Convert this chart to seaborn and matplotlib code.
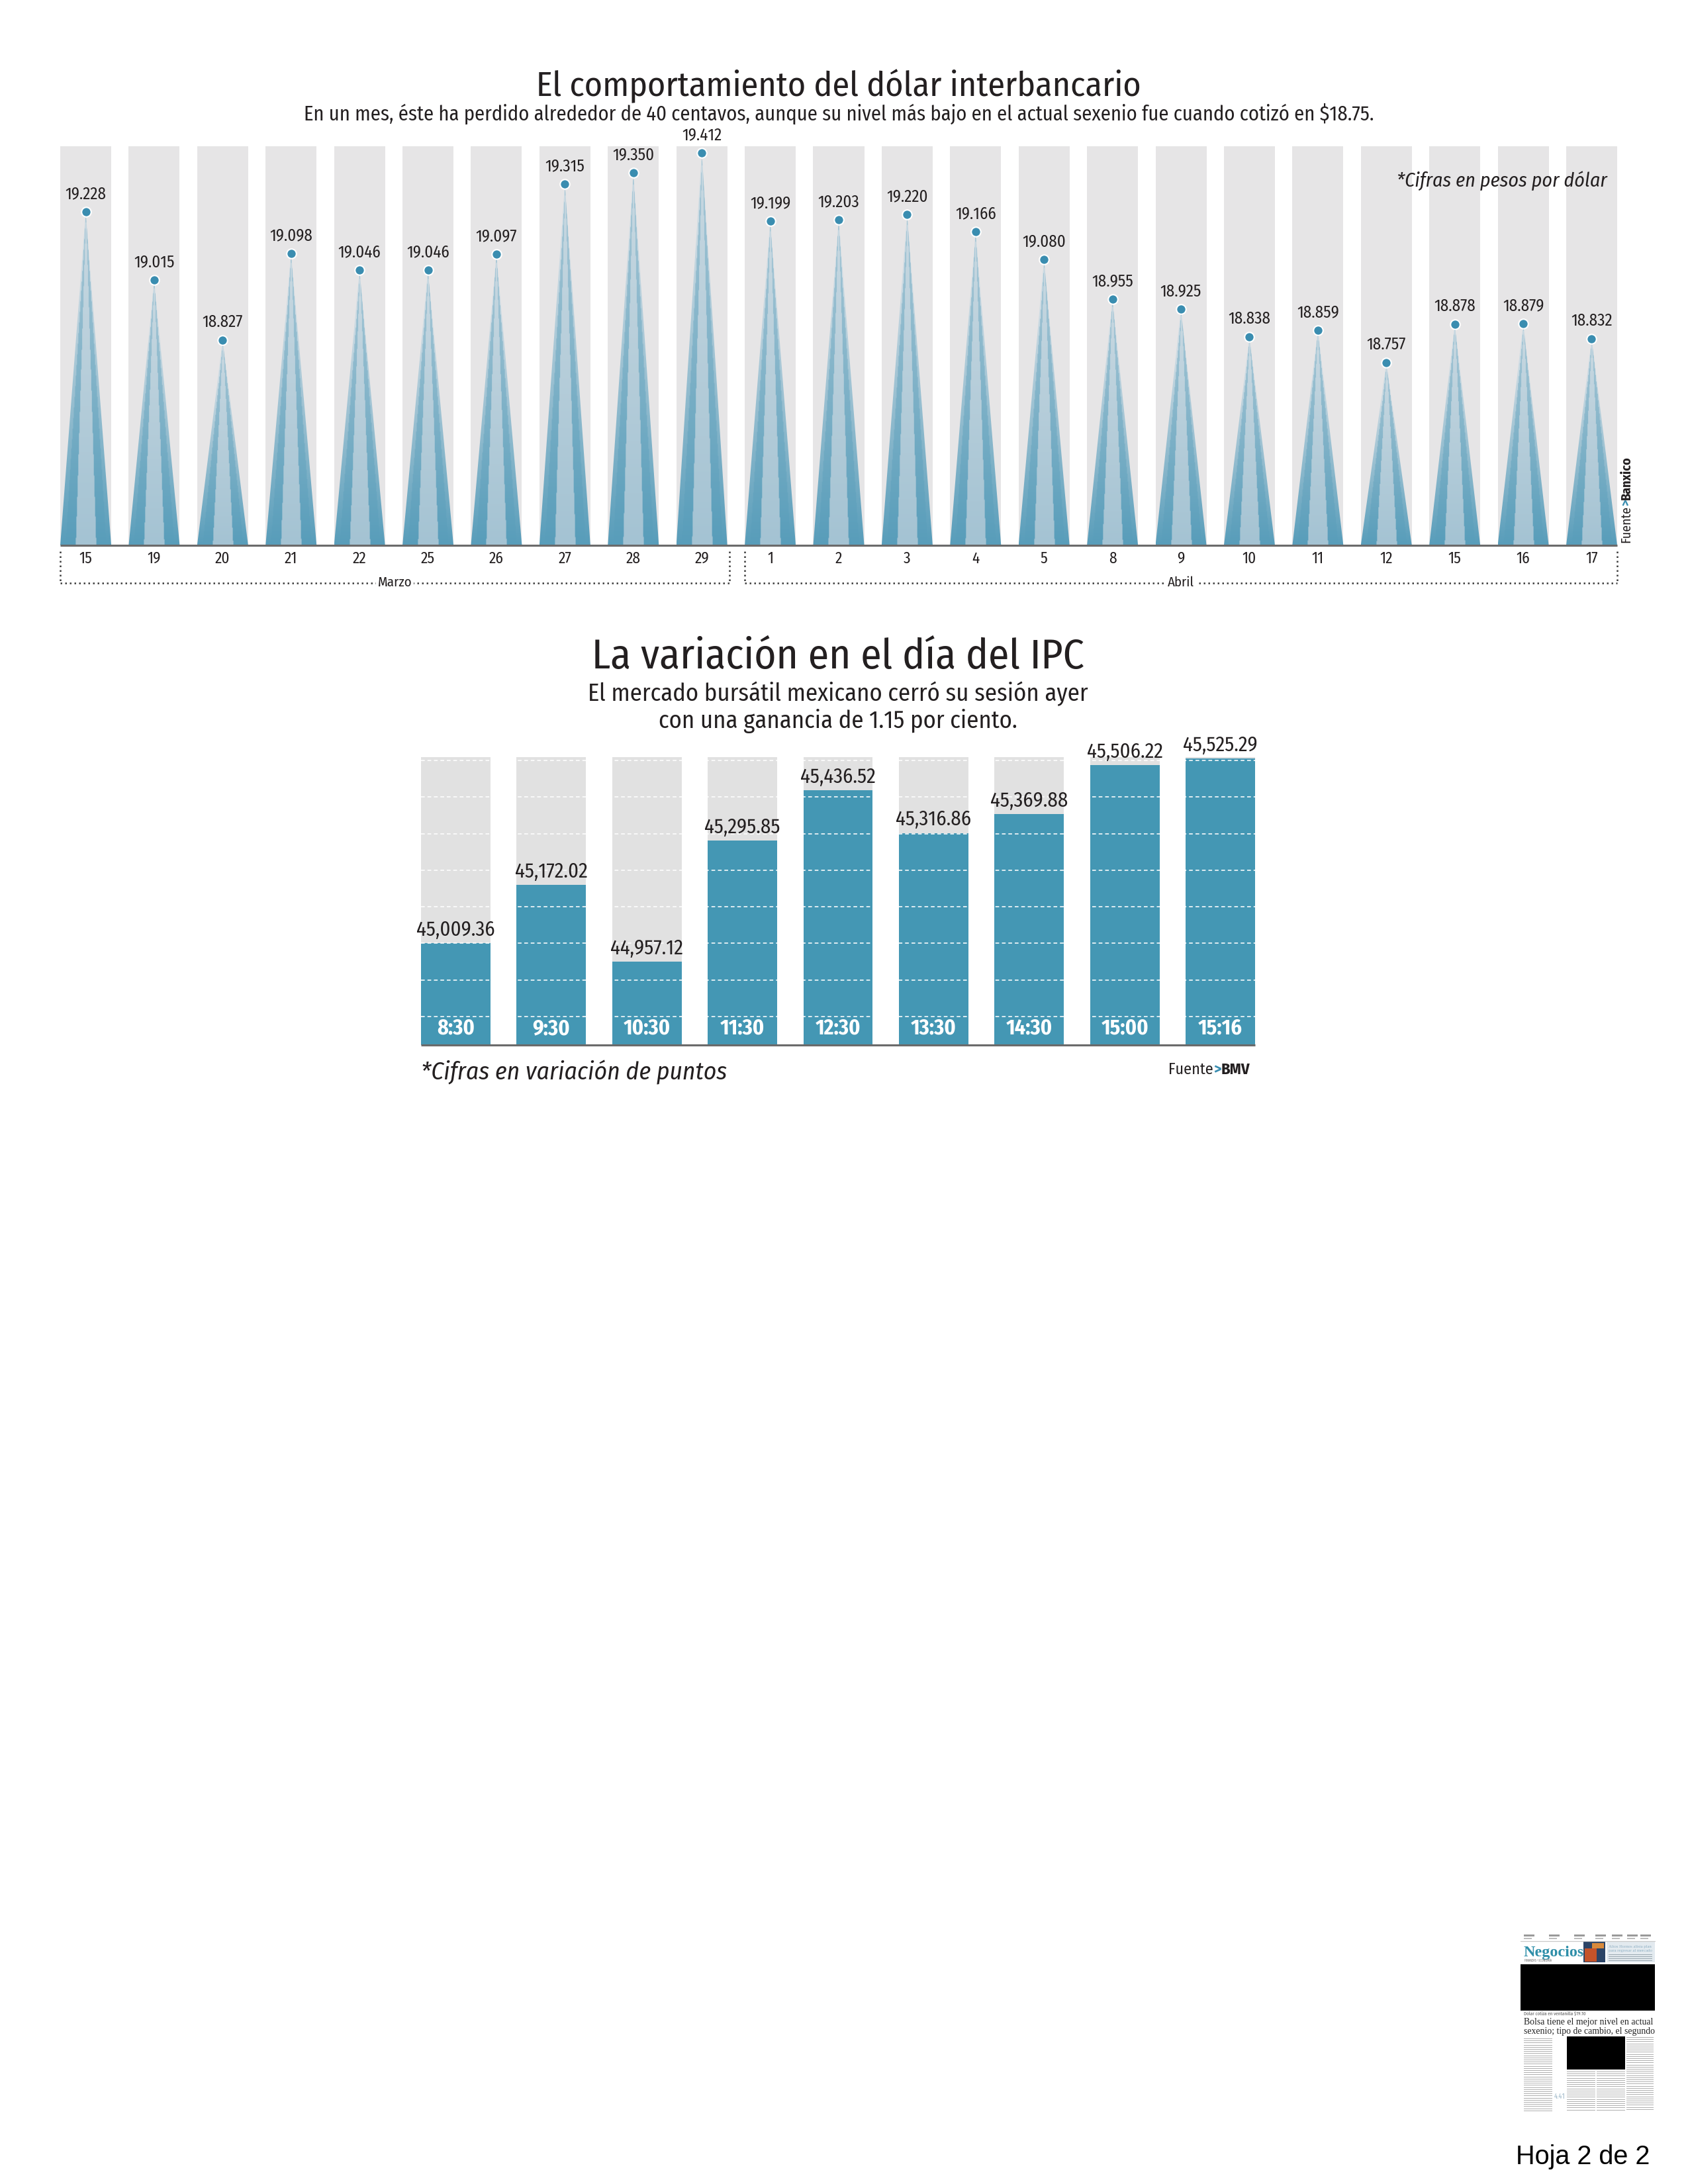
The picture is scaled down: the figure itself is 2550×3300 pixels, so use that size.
import numpy as np
import pandas as pd
import matplotlib
matplotlib.use("Agg")
import matplotlib.pyplot as plt
import seaborn as sns
from matplotlib.patches import Polygon, Rectangle
from matplotlib import font_manager as fm

# ---------------- data ----------------
fechas = ['15', '19', '20', '21', '22', '25', '26', '27', '28', '29',
          '1', '2', '3', '4', '5', '8', '9', '10', '11', '12', '15', '16', '17']
meses = ['Marzo', 'Abril']
dias_por_mes = [10, 13]
dolar = [19.228, 19.015, 18.827, 19.098, 19.046, 19.046, 19.097, 19.315, 19.350, 19.412,
         19.199, 19.203, 19.220, 19.166, 19.080, 18.955, 18.925, 18.838, 18.859, 18.757,
         18.878, 18.879, 18.832]
horas = ['8:30', '9:30', '10:30', '11:30', '12:30', '13:30', '14:30', '15:00', '15:16']
ipc = [45009.36, 45172.02, 44957.12, 45295.85, 45436.52, 45316.86, 45369.88, 45506.22, 45525.29]

# ---------------- style ----------------
sns.set_theme(style="white")
names = {f.name for f in fm.fontManager.ttflist}
FONT = 'Roboto'
for nm in ['Fira Sans Condensed', 'Roboto Condensed', 'Liberation Sans Narrow']:
    if nm in names:
        FONT = nm
        break
plt.rcParams['font.family'] = [FONT, 'DejaVu Sans']
TXT = '#231f20'

W, H = 2550, 3300
fig = plt.figure(figsize=(8.5, 11), dpi=300)
fig.patch.set_facecolor('white')


def fx(px):
    return px / W


def fy(py):
    return 1 - py / H


# ================= TOP CHART =================
n = len(dolar)
idx = np.arange(n)
bw = 0.745
y0, y1 = 18.187, 19.433
ax1 = fig.add_axes([fx(91), fy(824), (2443 - 91) / W, (824 - 221) / H])
ax1.bar(idx, y1 - y0, bottom=y0, width=bw, color='#e6e5e6', zorder=0, linewidth=0)

dark = np.array([88, 157, 186]) / 255
pale = np.array([205, 219, 227]) / 255
light = np.array([164, 195, 211]) / 255
ny, nx = 220, 80
xs = np.linspace(-1, 1, nx)
ts = np.linspace(0, 1, ny)
X, T = np.meshgrid(xs, ts)
S = np.abs(X) / np.maximum(1 - T, 1e-3)
out_c = dark + (pale - dark) * np.clip(T * 1.25, 0, 1)[..., None]
band_c = dark + (pale - dark) * np.clip(T * 0.7, 0, 1)[..., None]
cen_c = light + (pale - light) * np.clip(T * 0.9, 0, 1)[..., None]
img = np.where((S < 0.40)[..., None], cen_c, np.where((S < 0.80)[..., None], band_c, out_c))

hw = bw / 2
for i, v in zip(idx, dolar):
    im = ax1.imshow(img, extent=(i - hw, i + hw, y0, v), origin='lower', aspect='auto',
                    interpolation='bilinear', zorder=2)
    poly = Polygon([(i - hw, y0), (i + hw, y0), (i, v)], closed=True,
                   transform=ax1.transData, facecolor='none', edgecolor='none')
    ax1.add_patch(poly)
    im.set_clip_path(poly)

sns.scatterplot(x=idx, y=dolar, ax=ax1, s=12, color='#3a8db0', edgecolor='white',
                linewidth=0.5, zorder=5, legend=False)
for i, v in zip(idx, dolar):
    ax1.annotate(f"{v:.3f}", (i, v), xytext=(0, 6.5), textcoords='offset points',
                 ha='center', va='center', fontsize=6.0, color=TXT, zorder=6,
                 annotation_clip=False)

ax1.set_xlim(-hw, n - 1 + hw)
ax1.set_ylim(y0, y1)
ax1.axis('off')
ax1.plot([-hw, n - 1 + hw], [y0, y0], color='#6b6b6b', lw=0.75, clip_on=False, zorder=7,
         solid_capstyle='butt')

xt = ax1.get_xaxis_transform()
for i, f in zip(idx, fechas):
    ax1.text(i, -0.034, f, transform=xt, ha='center', va='center', fontsize=5.6, color=TXT)

# month brackets
start = 0
br_top, br_bot = -0.015, -0.094
for mes, cnt in zip(meses, dias_por_mes):
    left = start - hw
    right = start + cnt - 1 + hw
    if start == 0:
        right += 0.03
    kw = dict(transform=xt, color='#3a3a3a', lw=0.6, ls=(0, (1, 1.8)), clip_on=False)
    ax1.plot([left, left], [br_top, br_bot], **kw)
    ax1.plot([right, right], [br_top, br_bot], **kw)
    ax1.plot([left, right], [br_bot, br_bot], **kw)
    ax1.text((left + right) / 2, br_bot, mes, transform=xt, ha='center', va='center',
             fontsize=5.0, color=TXT,
             bbox=dict(facecolor='white', edgecolor='none', pad=0.6))
    start += cnt

fig.text(fx(1267), fy(130), 'El comportamiento del dólar interbancario', ha='center',
         va='center', fontsize=12.5, color=TXT)
fig.text(fx(1267), fy(172), 'En un mes, éste ha perdido alrededor de 40 centavos, aunque su nivel '
         'más bajo en el actual sexenio fue cuando cotizó en $18.75.', ha='center', va='center',
         fontsize=7.35, color=TXT)
fig.text(fx(2428), fy(273), '*Cifras en pesos por dólar', ha='right', va='center',
         fontsize=7.2, color=TXT, style='italic')

renderer = fig.canvas.get_renderer()


def chain(pieces, x, y, rotation=0):
    for txt, props in pieces:
        t = fig.text(fx(x), fy(y), txt, rotation=rotation, ha='left',
                     va='baseline' if rotation == 0 else 'bottom', **props)
        bb = t.get_window_extent(renderer)
        if rotation == 0:
            x += bb.width
        else:
            y -= bb.height


chain([('Fuente', dict(fontsize=4.8, color=TXT)),
       ('>', dict(fontsize=4.8, color='#3a8db0', fontweight='bold')),
       ('Banxico', dict(fontsize=4.8, color=TXT, fontweight='bold'))],
      2447, 820, rotation=90)

# ================= BOTTOM CHART =================
z0, z1 = 44724, 45529
m = len(horas)
bw2 = 0.727
ax2 = fig.add_axes([fx(636), fy(1579), (1896 - 636) / W, (1579 - 1144) / H])
ax2.bar(np.arange(m), z1 - z0, bottom=z0, width=bw2, color='#e1e1e1', zorder=0, linewidth=0)
df = pd.DataFrame({'hora': horas, 'ipc': ipc})
sns.barplot(data=df, x='hora', y='ipc', order=horas, color='#4497b4', saturation=1,
            width=bw2, errorbar=None, ax=ax2, zorder=2, linewidth=0)
ax2.set_xlim(-bw2 / 2, m - 1 + bw2 / 2)
ax2.set_ylim(z0, z1)
ax2.axis('off')
for k in range(8):
    gy = z0 + (0.099 + 0.127 * k) * (z1 - z0)
    ax2.axhline(gy, color='white', lw=0.45, ls=(0, (3, 2.2)), alpha=0.85, zorder=3)
ax2.plot([-bw2 / 2, m - 1 + bw2 / 2], [z0, z0], color='#6b6b6b', lw=0.75, clip_on=False,
         zorder=7, solid_capstyle='butt')
xt2 = ax2.get_xaxis_transform()
for i, (h, v) in enumerate(zip(horas, ipc)):
    ax2.annotate(f"{v:,.2f}", (i, v), xytext=(0, 1.2), textcoords='offset points',
                 ha='center', va='bottom', fontsize=7.4, color=TXT, annotation_clip=False,
                 zorder=6)
    ax2.text(i, 0.057, h, transform=xt2, ha='center', va='center', fontsize=7.7,
             color='white', fontweight='bold', zorder=6)

fig.text(fx(1266), fy(993), 'La variación en el día del IPC', ha='center', va='center',
         fontsize=15.2, color=TXT)
fig.text(fx(1266), fy(1048), 'El mercado bursátil mexicano cerró su sesión ayer', ha='center',
         va='center', fontsize=8.8, color=TXT)
fig.text(fx(1266), fy(1090), 'con una ganancia de 1.15 por ciento.', ha='center',
         va='center', fontsize=8.8, color=TXT)
fig.text(fx(636), fy(1620), '*Cifras en variación de puntos', ha='left', va='center',
         fontsize=9.0, color=TXT, style='italic')

# right-aligned Fuente>BMV
tb = fig.text(fx(1888), fy(1623), 'BMV', ha='right', va='baseline', fontsize=5.8,
              color=TXT, fontweight='bold')
bbx = tb.get_window_extent(renderer)
tg = fig.text(bbx.x0 / W, fy(1623), '>', ha='right', va='baseline', fontsize=5.8,
              color='#3a8db0', fontweight='bold')
bbg = tg.get_window_extent(renderer)
fig.text(bbg.x0 / W, fy(1623), 'Fuente', ha='right', va='baseline', fontsize=5.8, color=TXT)

# ================= page thumbnail =================
axp = fig.add_axes([0, 0, 1, 1], zorder=-1)
axp.set_xlim(0, W)
axp.set_ylim(H, 0)
axp.axis('off')
SERIF = ['Liberation Serif', 'DejaVu Serif']
for xh in [2302, 2340, 2378, 2410, 2435, 2458, 2478]:
    axp.add_patch(Rectangle((xh, 2923), 16, 2.5, color='#9a9a9a', lw=0))
    axp.add_patch(Rectangle((xh, 2928), 12, 1.6, color='#bdbdbd', lw=0))
axp.plot([2297, 2500], [2933, 2933], color='#c9c9c9', lw=0.3)
axp.text(2302, 2956, 'Negocios', family=SERIF, fontsize=5.8, fontweight='bold',
         color='#2f8fa9', va='baseline', ha='left')
axp.text(2303, 2962, 'FINANZAS • ECONOMÍA', fontsize=1.1, color='#666666', va='center')
axp.add_patch(Rectangle((2392, 2934), 33, 31, color='#2b4466', lw=0))
axp.add_patch(Rectangle((2394, 2944), 18, 20, color='#c4532a', lw=0))
axp.add_patch(Rectangle((2405, 2936), 18, 8, color='#d88a3c', lw=0))
axp.add_patch(Rectangle((2427, 2934), 73, 31, color='#e3eaef', lw=0))
axp.text(2430, 2941, 'Altos Hornos alista plan', family=SERIF, fontsize=1.6,
         color='#8fb0c4', va='center')
axp.text(2430, 2948, 'para regresar al mercado', family=SERIF, fontsize=1.6,
         color='#8fb0c4', va='center')
for yy in [2953, 2956, 2959, 2962]:
    axp.add_patch(Rectangle((2430, yy), 66, 1.2, color='#9aa7b0', lw=0))
axp.add_patch(Rectangle((2297, 2968), 203, 70, color='black', lw=0))
axp.text(2302, 3043, 'Dolar cotiza en ventanilla $19.10', fontsize=1.7, color='#555555',
         va='center')
axp.text(2302, 3055, 'Bolsa tiene el mejor nivel en actual', family=SERIF, fontsize=3.3,
         color='#222222', va='center')
axp.text(2302, 3070, 'sexenio; tipo de cambio, el segundo', family=SERIF, fontsize=3.3,
         color='#222222', va='center')
axp.add_patch(Rectangle((2367, 3077), 88, 50, color='black', lw=0))
cols = [(2302, 2345, 3080), (2367, 2410, 3130), (2412, 2455, 3130), (2457, 2498, 3078)]
for xa, xb, ys in cols:
    for yy in np.arange(ys, 3190, 3.2):
        axp.add_patch(Rectangle((xa, yy), xb - xa, 1.1, color='#b0b0b0', lw=0))
axp.text(2348, 3168, '4.41', fontsize=2.6, color='#9fb8c8', va='center')
axp.text(2492, 3270, 'Hoja 2 de 2', family=['Liberation Sans', 'DejaVu Sans'], fontsize=9.5,
         color='black', ha='right', va='baseline')

fig.savefig('out.png', dpi=300, facecolor='white')
